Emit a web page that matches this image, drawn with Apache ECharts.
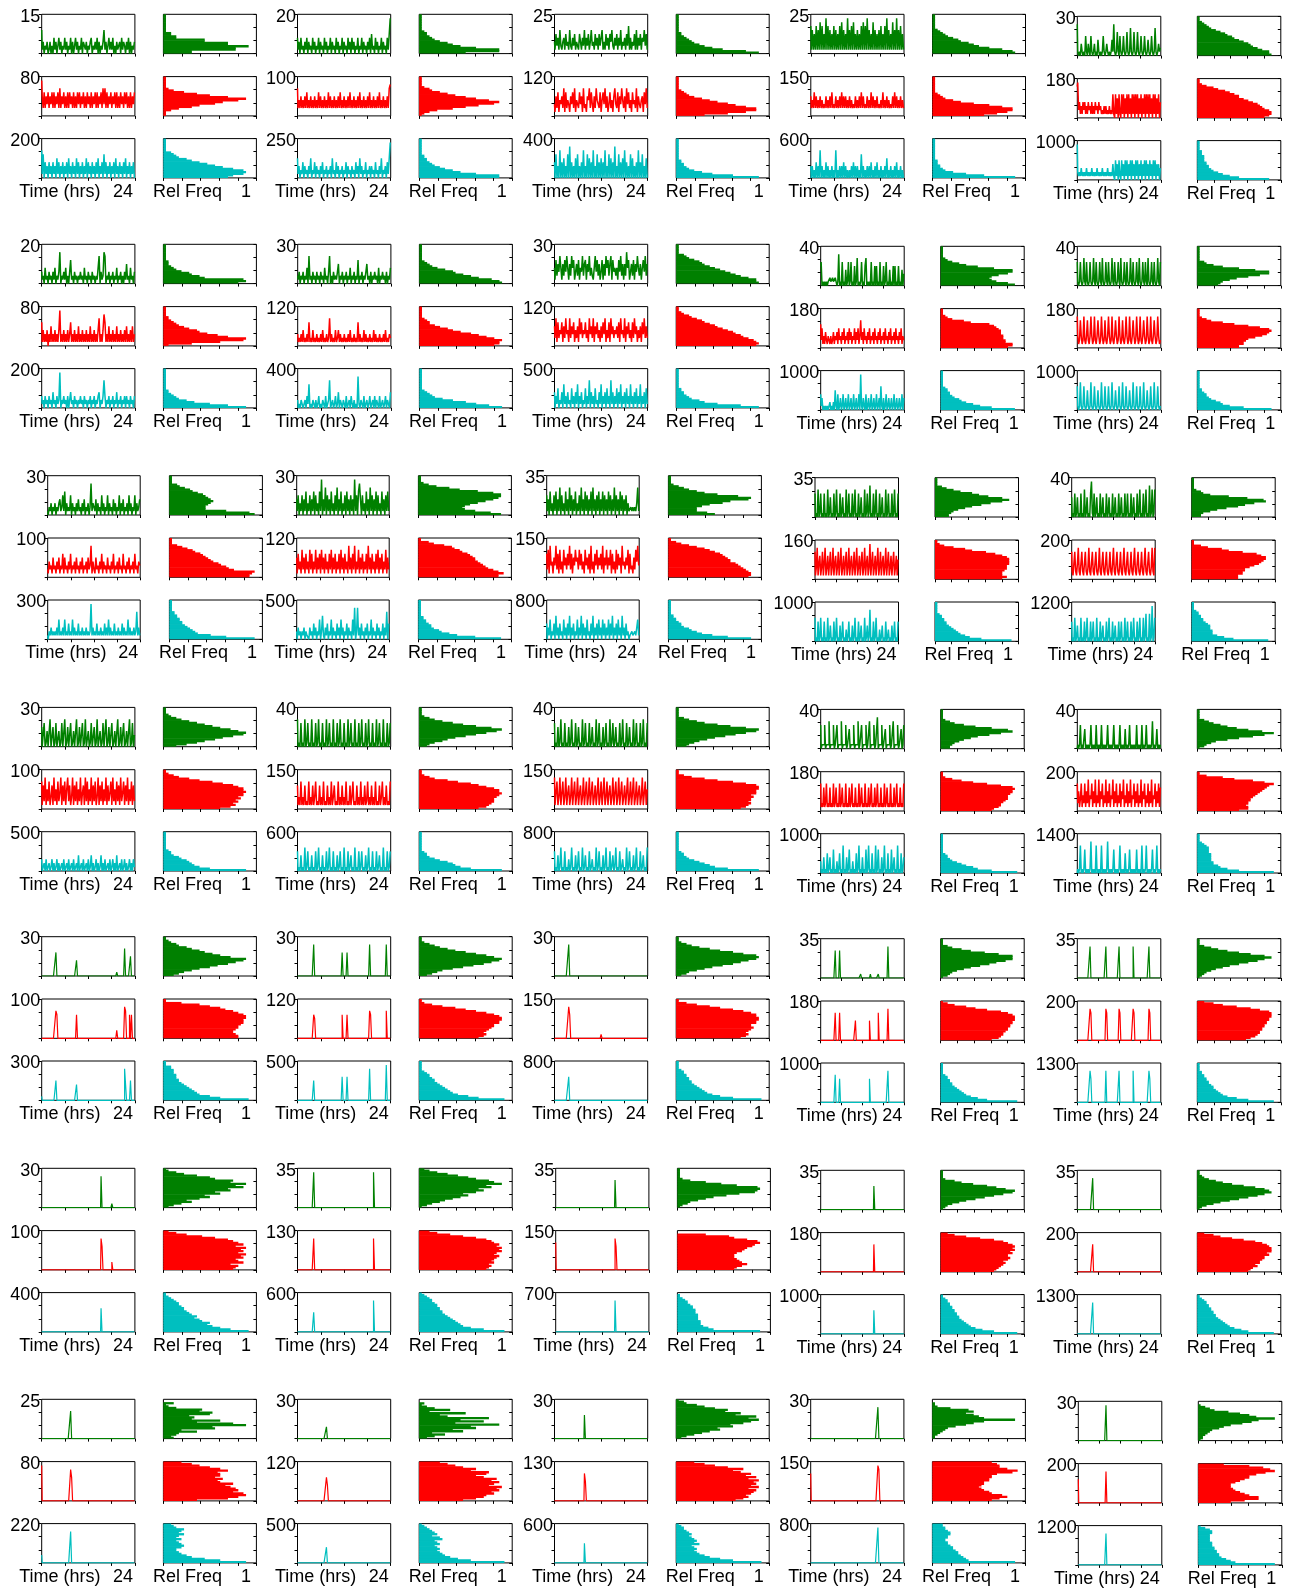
<!DOCTYPE html>
<html>
<head>
<meta charset="utf-8">
<script src="https://cdn.jsdelivr.net/npm/echarts/dist/echarts.min.js"></script>
<style>
html,body{margin:0;padding:0;background:#fff}
#chart{width:1298px;height:1591px}
</style>
</head>
<body>
<div id="chart"></div>
<script>
// ---- y-axis maxima for each block [row][column] ----
const greenMax = [[15,20,25,25,30],[20,30,30,40,40],[30,30,35,35,40],[30,40,40,40,40],[30,30,30,35,35],[30,35,35,35,35],[25,30,30,30,30]];
const redMax   = [[80,100,120,150,180],[80,120,120,180,180],[100,120,150,160,200],[100,150,150,180,200],[100,120,150,180,200],[100,130,150,180,200],[80,120,130,150,200]];
const cyanMax  = [[200,250,400,600,1000],[200,400,500,1000,1000],[300,500,800,1000,1200],[500,600,800,1000,1400],[300,500,800,1000,1300],[400,600,700,1000,1300],[220,500,600,800,1200]];

// ---- time series: one digit per 15-minute reading over 24 h, in tenths of the panel maximum ----
const greenSeries = [
"61302130 13020413 02413021 41302140 30241302 14032130 21340213 14030213 61302413 14020312 30413203 14030213",
"41304120 31403120 41302140 31204130 21403120 41302140 31204130 41302140 21403120 31405120 41302140 31204159",
"31524162 13415231 62142513 21531426 14251362 31524152 26131524 15362142 51426132 41527141 32516142 51436251",
"71615171 61817151 91716151 71615171 81615191 61718151 61517181 71916151 81615161 71517191 61518161 91617151",
"81010310 10510310 51013010 41010151 01310101 41810161 05101510 16101710 16101610 15101510 14101510 17101312",
"31204120 31203140 21380213 14020361 20312021 31204120 31203120 21470312 87021302 13021402 13020315 12041203",
"21302130 21407120 31203120 31204120 37020312 13502130 21302140 21302160 21302135 12030213 12040213 12030214",
"41625374 15263741 52746135 26143725 61537242 14736251 36152746 25716342 41637251 52846135 26153742 51463725",
"56010101 01121121 12101801 06010401 60160105 01701016 01057010 10601050 50106010 50160104 01050501 05010403",
"61016101 71061016 10171061 01610710 16106101 71061016 10710161 06101710 61016107 10161061 07101610 61017106",
"10213021 30213412 51603121 50312031 41203140 21302813 21403120 51302150 31204130 21503140 21305130 21503124",
"41503150 41603150 41605130 61904170 51406130 51704160 31506140 51409150 68405130 61407150 41605130 61405161",
"51406130 51604170 51306140 71504160 31507140 61504160 71405160 41605140 61504170 51406150 41503112 12121371",
"60107016 01060107 01501060 17010601 50107016 01060170 10601501 07016018 01060170 10601501 07016010 60170106",
"50106015 01060107 01501069 10601501 06015010 60150106 01501060 15010601 60106015 01060170 10601701 08017017",
"50060140 07005016 00401600 70150060 14007015 00601700 40160050 17004016 00701500 60140070 15006014 00701603",
"70106010 70160107 01060170 10601070 16010701 06017010 60107016 01070106 01701060 17010601 07016010 70106016",
"60105017 01060105 01701060 15010701 60106015 01070160 10501601 07016015 01060170 10601501 07016010 60170106",
"60111601 11701116 01160111 70111601 15011160 11170116 01116011 70111601 18011160 11501116 01170111 60115016",
"01016010 05010101 60101060 10106010 10160101 01601010 16010105 01016010 10106010 10601016 01010170 10150101",
"00000000 00000006 00000000 00000000 00004000 00000000 00000000 00000000 00000000 00000100 00000700 00050000",
"00000000 00000000 08000000 00000000 00000000 00000060 00060000 00000000 00000000 00800000 00000000 00080000",
"00000000 00000008 00000000 00000000 00000000 00000000 00000000 00000000 00000000 00000000 00000000 00000000",
"00000000 00000000 07000070 00000000 00000000 00000010 00000000 01000000 00100000 00000800 00000000 00000000",
"00000000 00000008 00000000 00000000 08000000 00000000 80000000 00000000 80000000 00000000 00800000 00000000",
"00000000 00000000 00000000 00000000 00000000 00000000 00000000 00000800 00000000 10000000 00000000 00000000",
"00000000 00000000 09000000 00000000 00000000 00000000 00000000 00000000 00000000 00000090 00000000 00000000",
"00000000 00000000 00000000 00000000 00000000 00000000 00000000 00000700 00000000 00000000 00000000 00000000",
"00000000 00000000 00000000 00000000 00000000 00000000 00000000 00000600 00000000 00000000 00000000 00000000",
"00000000 00000000 00800000 00000000 00000000 00000000 00000000 00000000 00000000 00000000 00000000 00000000",
"00000000 00000000 00000000 00000070 00000000 00000000 00000000 00000000 00000000 00000000 00000000 00000000",
"00000000 00000000 00000000 00000030 00000000 00000000 00000000 00000000 00000000 00000000 00000000 00000000",
"00000000 00000000 00000000 00000006 00000000 00000000 00000000 00000000 00000000 00000000 00000000 00000000",
"00000000 00000000 00000000 00000000 00000000 00000000 00000000 00000000 00000800 00000000 00000000 00000000",
"00000000 00000000 00000000 00000000 90000000 00000000 00000000 00000000 00000000 00000000 00000000 00000000"
];
const redSeries = [
"95262536 25362625 36272536 25262635 26252636 25362526 35262536 26253627 37262536 25362625 26352636 25262536",
"72425242 52624252 42524262 52425242 62524252 42526242 52425262 42524252 62425242 52624252 42526242 52425278",
"31526143 52716243 15362714 42635172 31547263 15274326 14637251 36241573 26153742 51736241 63427153 24516372",
"52426252 42524232 52425262 32524252 62525242 52423252 42526252 32524262 52425232 42624252 42325262 52425242",
"89241314 24131423 14131423 14231213 13121312 16106150 61061605 16061506 16061605 16051606 16061506 16051604",
"61413140 31513141 31491314 13141361 31413151 31413141 31513141 31471314 86131513 14131513 14131415 13141513",
"31213141 21316121 41213121 31412131 27131214 12413121 31213141 21312161 31214131 21312141 31213121 31412132",
"52716243 61527341 72536142 51736243 62417352 71536241 52637142 61735243 52617342 71536241 62735142 51637252",
"62513142 13213124 13241523 14251324 15241325 14251372 41523142 51324152 31425132 41523142 51324152 31425132",
"83127312 82137213 83128213 73128312 72138312 82137312 83127213 83128213 73128312 82137312 83128213 73128312",
"21423152 31425132 61523142 61324152 31425132 41523814 21523142 61423152 31426132 41523162 31425132 41623143",
"51624172 51624172 61427152 61725162 41627152 61426172 51624182 51628142 71526142 61825162 41627152 61427152",
"62718341 53826172 41735263 82615374 52736241 73526182 41637253 62815372 53716241 72635183 42537162 31527483",
"71381461 37148136 14713814 61371481 36147138 14613714 81361471 38146139 14713614 81371461 38147136 14713615",
"72147214 82147214 72138214 72147213 82147214 72137214 82147213 72148214 72137214 82147213 72148214 72138218",
"71628152 71361825 17248162 71582613 81627152 81461827 15281627 13816271 52816247 18251726 18247162 81527162",
"61317131 61217131 61371216 13171216 13171361 21713161 31712161 37121613 17131612 71316131 71216137 13161217",
"81471381 47138146 13814713 81461381 47138147 13614813 71481371 46138147 13814713 61481371 48137146 13814715",
"71216127 12161217 12612171 26121712 16127121 61217126 12171216 12712161 27121612 17126121 71216127 12161217",
"72513714 27152814 37152814 28153714 28152714 38152714 27153814 27152814 37152714 28153714 27152814 37152716",
"00000000 00000007 60000000 00000000 00006000 00000000 00000000 00000000 00000000 00000200 00000870 00606000",
"00000000 00000000 06500000 00000000 00000000 00000060 00060000 00000000 00000000 00760000 00000000 00070000",
"00000000 00000008 60000000 00000000 00000000 00000000 10000000 00000000 00000000 00000000 00000000 00000000",
"00000000 00000000 07000070 00000000 00000000 50000000 00000000 50000000 00700000 00000800 00000000 00000000",
"00000000 00000008 70000000 00000000 08700000 00000000 87000000 00000000 87000000 00000000 00870000 00000000",
"00000000 00000000 00000000 00000000 00000000 00000000 00000000 00000860 00000000 20000000 00000000 00000000",
"00000000 00000000 08000000 00000000 00000000 00000000 00000000 00000000 00000000 00000080 00000000 00000000",
"70000000 00000000 00000000 00000000 00000000 00000000 00000000 00000860 00000000 00000000 00000000 00000000",
"00000000 00000000 00000000 00000000 00000000 00000000 00000000 00000700 00000000 00000000 00000000 00000000",
"00000000 00000000 00700000 00000000 00000000 00000000 00000000 00000000 00000000 00000000 00000000 00000000",
"90000000 00000000 00000000 00000086 00000000 00000000 00000000 00000000 00000000 00000000 00000000 00000000",
"00000000 00000000 00000000 00000064 00000000 00000000 00000000 00000000 00000000 00000000 00000000 00000000",
"00000000 00000000 00000000 00000007 50000000 00000000 00000000 00000000 00000000 00000000 00000000 00000000",
"70000000 00000000 00000000 00000000 00000000 00000000 00000000 00000000 00000980 00000000 00000000 00000000",
"60000000 00000000 00000000 00000000 80000000 00000000 00000000 00000000 00000000 00000000 00000000 00000000"
];
const cyanSeries = [
"71604130 41304130 51403140 31405130 41305140 31403150 41304130 41503140 61403140 31405130 41304150 31403140",
"51302140 31203150 21403120 31402130 21305120 41302130 21403120 31204130 51302140 21303120 41203150 21304159",
"40603070 40503060 80403050 60304070 30605040 70306040 50407030 60504080 30604050 70403060 50304070 40603050",
"30302040 30703020 40302030 20702030 30403020 20304030 30206030 20303040 20304020 30203050 20302030 40203020",
"92121312 12131212 13121213 12121312 12131212 14105140 51051405 15041505 14051504 15041505 14051405 15041403",
"31203120 31204120 31290213 12030241 20312021 31203120 21302130 21340213 73021302 13021402 13021303 12031203",
"20102101 20316010 21020130 10210301 27012013 01402102 10301203 10201081 02103012 01301203 02103012 01302104",
"40315021 40613041 20513041 60314021 50317041 30512041 60314051 30714031 50416031 40513061 30415031 60314051",
"41301010 10120102 05104013 01401301 40130140 13014091 03104013 01401301 40130610 30140130 13014013 01301403",
"61017101 61015101 71016101 51017101 61016101 71015101 61017101 61015101 71016101 61017101 51016101 71016101",
"10213121 21315121 31512141 21513121 41213121 31212913 12141213 12141315 13121412 13121413 12151312 13127131",
"20312021 30211031 20413021 50261031 40215031 20413051 30214031 20518028 13041203 14021503 12041302 14031704",
"40315021 40613041 20513041 60314021 50316041 30512041 60314051 30514031 50416031 40513061 30412011 21121351",
"60105016 01050106 01401050 16010401 50103015 01040160 10501401 06014018 01050160 10301401 05013010 40150105",
"50106014 01060105 01601050 15010601 05014010 50160105 01401050 15010601 50105016 01050160 10601701 07019016",
"30120301 20130201 30201203 01203012 03012040 12030120 30140201 30201402 03012030 13020401 20301302 01302031",
"50104010 60150104 01050160 10401050 16010501 04015010 60105014 01060105 01501040 16010501 05014010 60105015",
"50104016 01050103 01601040 15010601 40105013 01060150 10401601 05014016 01050130 10601501 04016010 50140106",
"30104010 50140106 01030150 10701040 16010301 05017010 40106017 01050107 01601040 17010501 06014010 70105014",
"01017010 16010101 80101070 10107010 10180101 01601010 17010105 01016010 10106010 10701017 01010160 10170101",
"10000000 00000005 00000000 00000000 00004000 00000000 00000000 00000000 00000000 00000000 00000840 00050000",
"00000000 00000000 05000000 00000000 00000000 00000060 00060000 00000000 00000000 00800000 00000000 00090000",
"00000000 00000006 00000000 00000000 00000000 00000000 00000000 00000000 00000000 00000000 00000000 00000000",
"00000000 00000000 07000060 00000000 00000000 00000000 00000000 60000000 00000000 00000800 00000000 00000000",
"00000000 00000008 60000000 00000000 08000000 00000000 80000000 00000000 80000000 00000000 00860000 00000000",
"00000000 00000000 00000000 00000000 00000000 00000000 00000000 00000600 00000000 00000000 00000000 00000000",
"00000000 00000000 05000000 00000000 00000000 00000000 00000000 00000000 00000000 00000080 00000000 00000000",
"00000000 00000000 00000000 00000000 00000000 00000000 00000000 00000800 00000000 00000000 00000000 00000000",
"00000000 00000000 00000000 00000000 00000000 00000000 00000000 00000600 00000000 00000000 00000000 00000000",
"00000000 00000000 00800000 00000000 00000000 00000000 00000000 00000000 00000000 00000000 00000000 00000000",
"20000000 00000000 00000000 00000080 00000000 00000000 00000000 00000000 00000000 00000000 00000000 00000000",
"00000000 00000000 00000000 00000040 00000000 00000000 00000000 00000000 00000000 00000000 00000000 00000000",
"00000000 00000000 00000000 00000005 00000000 00000000 00000000 00000000 00000000 00000000 00000000 00000000",
"00000000 00000000 00000000 00000000 00000000 00000000 00000000 00000000 00000900 00000000 00000000 00000000",
"00000000 00000000 00000000 00000000 80000000 00000000 00000000 00000000 00000000 00000000 00000000 00000000"
];

// ---- histograms: one base-36 digit per bin, bottom bin first; relative frequency = digit / 36 ----
const greenHist = [
"bbssxppgg553311111111111","ivvmgdb86543321111111111","wrieb9765432211111111111","wvrmigeba865432111111111","wvvsqonmkigfdca865432111",
"twvgeba75432221111111111","wvsnkheda754321111111111","wvvspnljhfdba97543111111","wtomlmptvvngb85321111111","9abehmrvvpib743111111111",
"xvmeeefghgfedb9864311111","wsmihiknqtvwwtngc7421111","ifbbbdglovwrjeb864211111","6678adgkotwtnjgb85311111","4458bfknrwvog85421111111",
"59dgknrvwtqmjgda75321111","3469beimquwsmhd964211111","4579cfjnrvwrlgb853111111","44568adglqvtmfa642111111","13468diotxsmhda753111111",
"468beilpsvwqmjgeb9653211","3579dhlpsvwtqmieb8642111","2458beimpsvwvqmhd9642111","13457adhlosvvvpjd9531111","123468beimqtwtnid9631111",
"247b9eigmkqpvswqrkid8521","1358adgjhmpnsqwtrmjfb742","12458bejouvwvnhb52111111","12358bfjnrvwsoke96211111","1247aeimqtwvtpkfb8532111",
"4356d7kjwrdmbcaijef521400","36a5hdmkvepgrb8i4c631200","247adhgmlqtwsvnpjkfb8431","11234569dgkwkigdge721100","12234569bejnqxpmid753100"
];
const redHist = [
"11136bekntwpid8421111111","1247dintvrmieb8542111111","bkrvvrnkgda7543211111111","kptvvrmgb854321111111111","tvwwvtsrqomkiigec9742111",
"2bmvwplheda8654322111111","tvvwtqnkgdb8644321111111","vwvusqpnmkigfdba86532111","tvvssrrrqqqponlda5321111","iikklmpsuvwvrmgb64211111",
"vvwxpnmkjhgfedca97531111","vvxvtrqponmmlkjhgeda6411","vwwvutsrqoonmlkigeb85311","tvtttuvvvwwwwvtqmgd84211","kkkmmnnprtuvwwusmgd74111",
"mqsrtsutvvwvvtrnjea64211","nqrstttuvwvvtqnkfb642111","prststtutvvvwwvrmgb63111","mnpqqrstttuvvwvqke952111","immlmmnnopqrstuvxtogb411",
"ttsrrsttuvvvwwvtromie711","npqpqrsttvvwwvtqmie95211","prsrstuttvvwwvvtqmhd8411","mpqrrsttuuvvwwwvtqkfb631","lnpqrrssttuuvvwwwvrnhb73",
"rstqvtsvuwtvuwsvtrpkf952","qrsrtstuvtuwvwuvtsqmhc74","mnprponmmmnpqrtuwvrmkb00","nopqrsrtuttvuwvwvtrnhb63","mnoqprrsttvuwwwvuspkfa73",
"dptwvrtsqormlnkmmlpmieb7","hmpqtsvuwrtvsupmqrkmheb8","nqsrtuvswtvuwsvrtpmqkfb7","nqtrnmkjijkkmmnnpvxtqqpn","ekqqmkigfeeegikmmptxvsmb"
];
const cyanHist = [
"prvwvrnkheb9654311111111","vvmgda865433221111111111","wmea75433221111111111111","wkd854332221111111111111","vieb97655443333222111111",
"wpic96543221111111111111","wrmid9654321111111111111","wpgb96543322111111111111","wmheb9865443321111111111","wkeba8654432211111111111",
"xmgba9876554433221111111","wmfc98655433221111111111","wnhdb9865543322111111111","xkfdba987655443321111111","xieb99988876554433211111",
"wiecba976433211111111111","wkgedb864332111111111111","wkfdb9754332111111111111","xmgeb9754332111111111111","xida97766666555543211111",
"xmiedcba9876655544433111","xnjfdcba9876654432111111","xmhecba98766554433211111","xkgdba987655443321111111","xmhdba987765544332211111",
"xqmjhifecdba988766543211","xpkhgfedcba9988776554321","weca99988887776654432110","xnifdcba9887766554433211","xmjgedcba988776655443211",
"wmgb97655787657568678543","xkfca9878768769857654321","xmhdb9878769787656543321","wedcbaa98876655667765544","xgeca9988776665555566531"
];

// ---- page layout (pixels) ----
const blockTop = [14.3, 244.3, 475.7, 707.4, 936.7, 1168.3, 1399.3];
const timeLeft = [
  [41.7, 297.5, 554.5, 810.8, 1077.3],
  [41.7, 297.7, 554.5, 820.7, 1077.3],
  [47.7, 296.7, 546.7, 815.0, 1071.7],
  [41.7, 297.5, 554.5, 820.7, 1077.3],
  [41.7, 297.5, 554.5, 820.7, 1077.3],
  [41.7, 297.5, 555.7, 820.7, 1077.3],
  [41.7, 297.5, 554.5, 810.7, 1078.3]
];
const PANEL_H = 39.3;
const ROW_OFFSETS = [0, 62.3, 124.3];
const COLORS = ['#008000', '#ff0000', '#00bfbf'];
const FONT = '18px "Liberation Sans", Arial, Helvetica, sans-serif';

const chart = echarts.init(document.getElementById('chart'), null, {renderer: 'canvas', width: 1298, height: 1591});
const grid = [], xAxis = [], yAxis = [], series = [], graphic = [];

const tickAxis = opts => Object.assign({
  axisLine: {show: false},
  axisLabel: {show: false},
  splitLine: {show: false},
  axisTick: {show: true, inside: true, length: 3, lineStyle: {color: '#000', width: 1}}
}, opts);

const readLevels = s => s.replace(/\s+/g, '').split('').map(Number);
const readBins = s => s.replace(/\s+/g, '').split('').map(ch => parseInt(ch, 36) / 36);

function addGrid(left, top, width) {
  grid.push({left, top, width, height: PANEL_H, show: true, borderColor: '#000', borderWidth: 1,
             backgroundColor: 'transparent', containLabel: false});
  return grid.length - 1;
}
function addText(text, x, y, align) {
  graphic.push({type: 'text', silent: true, z: 100,
    style: {text, x, y, font: FONT, fill: '#000', align, verticalAlign: 'middle',
            textAlign: align, textVerticalAlign: 'middle'}});
}

for (let r = 0; r < 7; r++) {
  for (let c = 0; c < 5; c++) {
    const k = r * 5 + c;
    const narrow = cyanMax[r][c] >= 1000;          // four-digit label squeezes the panels
    const tL = timeLeft[r][c];
    const tW = narrow ? 83.5 : (r === 2 ? 92.5 : 93.2);
    const hL = tL + (narrow ? 120 : 121.7);
    const hW = narrow ? 83.5 : 93;
    const top0 = blockTop[r] + (narrow ? 2 : 0);
    const maxes = [greenMax[r][c], redMax[r][c], cyanMax[r][c]];
    const lines = [greenSeries[k], redSeries[k], cyanSeries[k]];
    const hists = [greenHist[k], redHist[k], cyanHist[k]];
    const lineW = r < 4 ? 1.5 : 1.2;                 // busy traces read as dense strokes

    for (let j = 0; j < 3; j++) {
      const top = top0 + ROW_OFFSETS[j];
      const ymax = maxes[j];
      const color = COLORS[j];

      // time series panel
      const gT = addGrid(tL, top, tW);
      xAxis.push(tickAxis({type: 'value', gridIndex: gT, min: 0, max: 24, interval: 6, position: 'top'}));
      yAxis.push(tickAxis({type: 'value', gridIndex: gT, min: 0, max: ymax, interval: ymax / 3, position: 'right'}));
      const lv = readLevels(lines[j]);
      const n = lv.length;
      series.push({
        type: 'line', step: 'middle', xAxisIndex: xAxis.length - 1, yAxisIndex: yAxis.length - 1,
        data: lv.map((v, i) => [i * 24 / (n - 1), v * ymax / 10]),
        symbol: 'none', showSymbol: false, silent: true, animation: false, clip: true,
        lineStyle: {color, width: lineW}, itemStyle: {color}
      });

      // relative-frequency histogram panel (horizontal bars, slightly overlapped so no seams show)
      const gH = addGrid(hL, top, hW);
      xAxis.push(tickAxis({type: 'value', gridIndex: gH, min: 0, max: 1, interval: 0.2, position: 'top'}));
      const bv = readBins(hists[j]);
      yAxis.push({type: 'category', gridIndex: gH, data: bv.map((_, i) => i), show: false, boundaryGap: true, position: 'left'});
      const catIdx = yAxis.length - 1;
      yAxis.push(tickAxis({type: 'value', gridIndex: gH, min: 0, max: ymax, interval: ymax / 3, position: 'right'}));
      series.push({
        type: 'bar', xAxisIndex: xAxis.length - 1, yAxisIndex: catIdx, data: bv,
        barWidth: PANEL_H / bv.length + 0.7, silent: true, animation: false,
        itemStyle: {color, borderWidth: 0}
      });

      addText(String(ymax), tL - 1.5, top + 2.5, 'right');
    }

    const yB = top0 + ROW_OFFSETS[2] + PANEL_H + 14;
    addText('Time (hrs)', tL - (narrow ? 24.3 : 22.5), yB, 'left');
    addText('24', tL + tW - 2, yB, 'right');
    addText('Rel Freq', hL - 10.5, yB, 'left');
    addText('1', hL + hW - 5.5, yB, 'right');
  }
}

chart.setOption({animation: false, grid, xAxis, yAxis, series, graphic});
</script>
</body>
</html>
